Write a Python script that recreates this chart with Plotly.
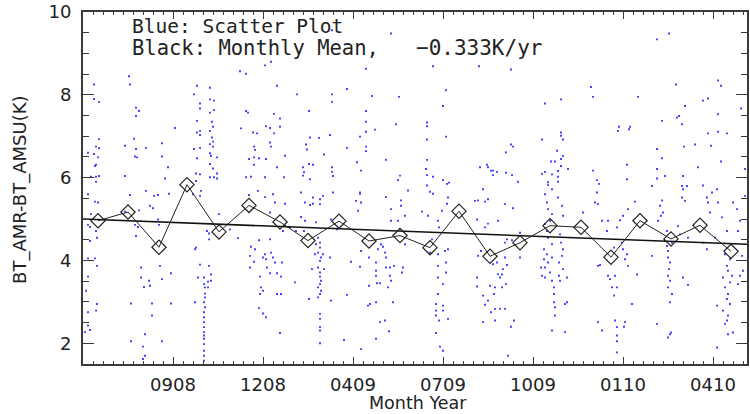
import plotly.graph_objects as go

# ---------------- data ----------------
# x axis: days since start of record; tick labels are Month/Year strings
tick_days = [90, 180, 270, 360, 450, 540, 630]
tick_labels = ["0908", "1208", "0409", "0709", "1009", "0110", "0410"]

# Monthly means (black diamonds)
mean_days = [15, 45, 76, 104, 136, 166, 197, 225, 256, 286, 317,
             347, 376, 407, 437, 467, 498, 528, 557, 588, 617, 648]
mean_vals = [4.96, 5.17, 4.32, 5.83, 4.69, 5.33, 4.93, 4.48, 4.95, 4.47, 4.60,
             4.31, 5.19, 4.10, 4.43, 4.84, 4.80, 4.08, 4.96, 4.52, 4.85, 4.22]

# Linear trend (-0.333 K/yr)
trend_days = [0, 664]
trend_vals = [5.00, 4.39]

# Scatter (blue dots): [day, value]
scatter_upper_left = [
    [11, 8.25], [11, 7.90], [16, 7.83], [46, 8.45], [47, 8.25], [53, 7.69], [56, 7.61], [53, 7.49],
    [16, 6.93], [13, 6.75], [16, 6.71], [5, 6.60], [11, 6.57], [15, 6.49], [13, 6.31], [12, 6.28],
    [16, 6.04], [13, 6.02], [8, 6.02], [13, 5.90], [42, 6.77], [51, 6.94], [53, 6.69], [63, 6.72],
    [52, 6.51], [54, 6.49], [42, 6.04], [79, 6.83], [79, 6.51], [85, 6.25], [82, 5.98], [92, 7.20],
    [111, 8.01], [114, 8.22], [117, 7.79], [117, 7.67], [114, 7.37], [117, 7.13], [114, 7.09],
    [117, 7.03], [111, 6.69], [117, 6.72], [114, 6.47], [113, 6.10], [117, 6.08], [113, 5.92],
    [127, 8.17], [127, 7.89], [131, 7.86], [131, 7.63], [127, 7.57], [129, 7.35], [130, 7.23],
    [127, 7.13], [129, 6.97], [130, 6.87], [127, 6.81], [130, 6.75], [127, 6.59], [128, 6.53],
    [134, 6.49], [127, 6.33], [130, 6.22], [134, 6.10], [127, 6.01], [131, 6.01], [134, 5.98],
    [157, 8.57], [163, 8.51], [182, 8.71], [188, 8.80], [194, 8.22], [163, 7.61], [165, 7.57],
    [158, 7.19], [170, 7.09], [174, 7.07], [191, 7.54], [197, 7.43], [183, 7.24], [187, 7.20],
    [197, 7.23], [191, 7.07], [187, 6.85], [171, 6.75], [172, 6.67], [188, 6.75], [166, 6.45],
    [171, 6.49], [176, 6.47], [183, 6.45], [202, 6.53], [171, 6.31], [194, 6.25], [163, 6.01],
    [168, 6.02], [182, 6.01], [201, 6.01], [214, 8.01], [226, 7.61], [227, 6.97], [236, 6.96],
    [223, 6.80], [224, 6.68], [241, 6.56], [220, 6.25], [226, 6.33], [230, 6.31], [221, 6.13],
    [220, 6.05], [227, 5.96], [249, 8.01], [249, 7.83], [247, 7.03], [249, 6.25], [249, 6.14],
    [250, 6.04], [264, 8.14], [264, 6.72], [274, 6.37], [283, 8.63], [283, 7.61], [283, 7.35],
    [283, 7.11], [277, 6.99], [283, 6.75], [283, 6.64], [278, 6.17], [289, 7.97], [292, 7.16],
    [303, 6.43], [313, 7.29], [316, 7.95], [308, 9.48], [249, 9.56], [317, 6.05], [315, 5.94],
]

scatter_upper_right = [
    [350, 8.69], [396, 8.69], [428, 8.61], [363, 8.11], [360, 7.73], [344, 7.33], [344, 7.24],
    [363, 6.99], [344, 6.92], [344, 6.43], [343, 6.21], [344, 6.06], [350, 6.02], [360, 5.94],
    [364, 5.85], [366, 5.88], [344, 5.81], [574, 9.34], [586, 9.48], [508, 8.19], [510, 7.95],
    [555, 7.95], [462, 7.79], [478, 7.89], [593, 8.25], [602, 7.73], [620, 7.86], [625, 7.91],
    [635, 8.35], [638, 8.22], [658, 7.67], [594, 7.45], [596, 7.49], [579, 7.37], [599, 7.29],
    [635, 7.53], [536, 7.23], [535, 7.13], [547, 7.23], [546, 7.17], [478, 7.09], [478, 7.01],
    [480, 6.92], [459, 6.92], [428, 6.80], [430, 6.75], [423, 6.61], [474, 6.65], [480, 6.52],
    [478, 6.45], [468, 6.39], [472, 6.39], [478, 6.28], [485, 6.21], [397, 6.25], [404, 6.31],
    [405, 6.25], [408, 6.17], [410, 6.17], [414, 6.14], [410, 6.06], [423, 6.12], [429, 6.06],
    [435, 5.90], [459, 6.09], [462, 6.14], [469, 6.08], [475, 6.16], [475, 6.02], [475, 5.90],
    [465, 5.89], [465, 5.82], [510, 6.17], [514, 5.94], [516, 5.85], [544, 6.31], [544, 5.96],
    [574, 6.69], [579, 6.47], [574, 6.21], [582, 6.04], [574, 5.98], [569, 5.80], [601, 6.75],
    [612, 6.80], [628, 6.77], [625, 7.07], [635, 7.11], [644, 7.07], [638, 6.39], [615, 6.25],
    [600, 6.04], [599, 5.80], [604, 5.80], [620, 5.81], [662, 6.21],
]

scatter_lower_left = [
    [5, 5.60], [12, 5.42], [15, 5.40], [8, 5.12], [5, 4.86], [7, 4.81], [13, 4.71], [14, 4.55],
    [7, 4.47], [5, 4.05], [12, 4.05], [14, 3.87], [5, 3.61], [3, 3.27], [5, 2.75], [13, 2.79],
    [14, 2.95], [5, 2.43], [7, 2.32], [2, 2.27], [47, 5.58], [42, 5.18], [56, 5.21], [52, 4.86],
    [55, 4.81], [53, 4.59], [58, 3.83], [58, 3.59], [66, 3.51], [67, 3.39], [61, 3.36], [48, 2.96],
    [69, 2.96], [69, 2.67], [62, 2.22], [48, 2.05], [60, 1.92], [62, 1.70], [60, 1.62], [67, 5.32],
    [70, 5.26], [71, 5.56], [75, 5.58], [75, 4.99], [76, 4.86], [77, 3.87], [79, 3.55], [88, 3.69],
    [88, 2.96], [79, 2.05], [63, 5.68], [86, 5.61], [110, 5.60], [112, 4.27], [113, 4.31],
    [115, 3.59], [117, 3.90], [112, 2.99],
    [121, 3.59], [121, 3.43], [122, 3.35], [122, 3.20], [122, 3.11], [121, 2.99], [122, 2.87],
    [121, 2.75], [121, 2.63], [121, 2.51], [121, 2.39], [121, 2.27], [121, 2.19], [121, 2.11],
    [121, 1.98], [121, 1.82], [121, 1.70], [121, 1.58],
    [125, 3.49], [125, 3.35], [128, 3.66], [128, 3.51], [126, 3.87], [126, 4.51], [117, 5.56],
    [118, 5.68], [124, 4.71], [126, 4.65], [136, 5.12], [147, 4.75], [155, 4.54], [168, 4.33],
    [172, 4.27], [167, 4.11], [167, 3.83], [171, 3.97], [176, 4.49], [180, 4.07], [182, 4.15],
    [183, 4.03], [184, 3.83], [187, 4.51], [188, 4.19], [190, 4.07], [192, 3.95], [199, 3.95],
    [177, 3.61], [178, 3.35], [177, 3.19], [180, 3.27], [187, 3.69], [194, 3.69], [198, 3.61],
    [194, 3.19], [198, 3.19], [176, 2.85], [180, 2.72], [183, 2.63], [197, 2.25], [166, 5.58],
    [175, 5.68], [182, 5.53], [190, 5.60], [192, 5.40], [187, 5.16], [202, 5.37], [218, 5.64],
    [207, 4.80], [200, 4.71], [213, 4.71], [212, 3.47], [218, 5.05], [222, 5.40], [227, 5.34],
    [230, 5.52], [230, 5.37], [237, 5.48], [237, 5.36], [240, 5.56], [222, 4.96], [221, 4.71],
    [233, 4.92],
    [235, 4.55], [237, 4.43], [237, 4.31], [235, 4.19], [238, 4.07], [237, 3.99], [235, 3.83],
    [237, 3.71], [237, 3.61], [238, 3.51], [237, 3.43], [235, 3.35], [238, 3.27], [237, 3.19],
    [235, 3.11], [237, 2.71], [237, 2.59], [237, 2.39], [237, 2.31], [237, 2.00],
    [233, 4.39], [232, 4.15], [229, 3.79], [241, 3.79], [240, 4.15], [226, 3.07], [248, 3.03],
    [247, 4.07], [250, 5.64], [248, 4.99], [254, 4.75], [261, 2.08], [264, 3.17], [268, 3.97],
    [273, 5.44], [277, 5.61], [278, 5.40], [275, 5.20], [278, 4.23], [277, 3.85], [286, 4.07],
    [286, 3.39], [285, 2.91], [287, 2.95], [278, 1.86], [293, 3.75], [293, 3.63], [294, 3.45],
    [297, 3.45], [293, 3.95], [295, 4.27], [298, 4.39], [300, 4.33], [302, 4.19], [303, 4.07],
    [303, 3.83], [307, 3.83], [311, 3.87], [307, 3.63], [308, 3.51], [305, 3.35], [310, 2.99],
    [293, 2.99], [297, 2.51], [302, 2.55], [306, 2.29], [293, 2.11], [303, 5.53], [318, 5.45],
    [318, 5.32], [322, 5.08], [308, 5.24], [308, 4.96], [315, 4.96], [322, 4.39], [320, 3.83],
    [319, 3.71], [325, 5.69], [277, 5.64],
]

scatter_lower_right = [
    [347, 5.66], [350, 5.61], [339, 5.18], [345, 5.08], [355, 4.96], [356, 4.80], [365, 5.52],
    [364, 5.37], [359, 5.20], [349, 4.51], [347, 4.19], [355, 4.15], [362, 4.23], [365, 4.27],
    [355, 3.87], [363, 3.95], [363, 3.71], [355, 3.59], [360, 3.43], [355, 3.19], [353, 2.95],
    [360, 2.91], [353, 2.79], [360, 2.79], [353, 2.67], [356, 2.55], [365, 2.59], [353, 2.25],
    [357, 1.92], [360, 1.82], [392, 5.44], [395, 5.45], [402, 5.42], [405, 5.48], [400, 5.72],
    [394, 4.99], [402, 4.80], [405, 4.89], [415, 4.96], [422, 5.36], [430, 5.26], [424, 4.51],
    [422, 4.43], [429, 4.49], [398, 4.23], [395, 4.11], [394, 3.59], [394, 3.37], [400, 3.15],
    [405, 3.03], [402, 2.93], [411, 3.19], [412, 3.35], [407, 3.39], [415, 3.67], [417, 3.59],
    [419, 3.66], [420, 3.79], [423, 3.43], [419, 3.35], [424, 3.89], [422, 4.07], [414, 3.95],
    [410, 3.91], [412, 2.83], [417, 2.83], [422, 2.83], [408, 2.75], [412, 2.55], [400, 2.51],
    [428, 2.40], [431, 2.55], [425, 1.70], [437, 4.07], [437, 4.67],
    [462, 5.60], [464, 5.40], [465, 5.24], [469, 5.12], [467, 4.96], [462, 4.88], [464, 4.71],
    [465, 4.55], [469, 4.39], [461, 4.27], [464, 4.15], [469, 4.07], [465, 3.95], [462, 3.83],
    [467, 3.71], [462, 3.59], [469, 3.51], [471, 3.35], [471, 3.19], [471, 2.99], [472, 2.87],
    [472, 2.67], [469, 2.31], [475, 5.52], [479, 5.32], [480, 5.08], [477, 4.63], [478, 4.43],
    [480, 4.27], [479, 4.11], [476, 3.95], [480, 3.79], [476, 3.63], [477, 3.51], [484, 3.59],
    [482, 2.95], [484, 2.99], [482, 2.27], [459, 3.63], [458, 3.83], [461, 4.03], [469, 5.72],
    [500, 5.16], [514, 5.64], [512, 5.40], [515, 5.36], [519, 4.96], [525, 4.96], [524, 4.71],
    [517, 3.89], [515, 3.87], [525, 3.63], [527, 3.55], [529, 3.35], [531, 3.15], [532, 2.55],
    [534, 2.39], [534, 2.19], [534, 2.05], [534, 1.78], [515, 2.51], [519, 2.31], [542, 2.51],
    [541, 2.40], [539, 4.43], [540, 4.27], [544, 4.15], [542, 4.03], [545, 3.87], [534, 4.80],
    [537, 4.97], [540, 5.08], [545, 5.24], [552, 5.42], [554, 3.66], [549, 2.95], [532, 3.63],
    [534, 3.35], [531, 4.31], [577, 5.32], [579, 5.45], [580, 5.16], [575, 4.96], [584, 4.71],
    [578, 5.08], [569, 4.11], [574, 2.47],
    [584, 4.35], [585, 4.23], [585, 4.07], [587, 3.95], [586, 3.79], [585, 3.63], [587, 3.51],
    [585, 3.35], [589, 3.19], [587, 2.99], [588, 2.26], [587, 2.22], [585, 2.14],
    [582, 4.47], [589, 4.43], [600, 3.59], [605, 3.41], [599, 5.52], [602, 5.44], [600, 5.72],
    [595, 4.83], [597, 4.63], [605, 4.55], [624, 5.52], [629, 5.64], [634, 5.72], [627, 5.16],
    [625, 5.40], [635, 5.40], [639, 5.04], [632, 4.55], [644, 4.71], [650, 5.40], [657, 4.96],
    [655, 4.71], [654, 5.24], [662, 5.56],
    [642, 4.15], [647, 4.03], [644, 3.87], [645, 3.75], [640, 3.59], [647, 3.47], [642, 3.35],
    [645, 3.19], [644, 3.07], [647, 2.95], [640, 2.79], [645, 2.67], [644, 2.55], [642, 2.47],
    [650, 2.26], [645, 2.22], [649, 3.63], [657, 3.63], [659, 4.11], [660, 3.75], [655, 3.43],
    [634, 2.91], [634, 1.90], [624, 4.27], [620, 4.43],
]

# ---------------- figure ----------------
scatter_all = scatter_upper_left + scatter_upper_right + scatter_lower_left + scatter_lower_right
sx = [p[0] for p in scatter_all]
sy = [p[1] for p in scatter_all]

AX = "#3a3a3a"
TXT = "#222222"

fig = go.Figure()
fig.add_trace(go.Scatter(
    x=sx, y=sy, mode="markers",
    marker=dict(symbol="square", size=1.9, color="#3c3cff", line=dict(width=0)),
    hoverinfo="skip",
))
fig.add_trace(go.Scatter(
    x=trend_days, y=trend_vals, mode="lines",
    line=dict(color="#111111", width=1.6),
))
fig.add_trace(go.Scatter(
    x=mean_days, y=mean_vals, mode="lines+markers",
    line=dict(color="#222222", width=1),
    marker=dict(symbol="diamond-open", size=11, color="#222222", line=dict(width=1.2, color="#222222")),
))

fig.update_layout(
    width=750, height=414,
    margin=dict(l=83, r=1, t=12, b=50),
    paper_bgcolor="white", plot_bgcolor="white",
    showlegend=False,
    font=dict(family="DejaVu Sans", color=TXT),
)

fig.update_xaxes(
    range=[0, 664],
    tickmode="array", tickvals=tick_days, ticktext=tick_labels,
    ticks="inside", ticklen=7, tickwidth=1.3, tickcolor=AX,
    showline=True, linecolor=AX, linewidth=2, mirror="allticks",
    showgrid=False, zeroline=False,
    tickfont=dict(family="DejaVu Sans", size=18, color=TXT),
    ticklabelstandoff=3,
    minor=dict(tickmode="linear", tick0=0, dtick=10, ticks="inside", ticklen=3,
               tickwidth=1, tickcolor=AX, showgrid=False),
)
fig.update_yaxes(
    range=[1.5, 10],
    tickmode="array", tickvals=[2, 4, 6, 8, 10],
    ticks="inside", ticklen=11, tickwidth=1.3, tickcolor=AX,
    showline=True, linecolor=AX, linewidth=2, mirror="allticks",
    showgrid=False, zeroline=False,
    tickfont=dict(family="DejaVu Sans", size=18, color=TXT),
    ticklabelstandoff=6,
    minor=dict(tickmode="linear", tick0=0, dtick=0.5, ticks="inside", ticklen=6,
               tickwidth=1, tickcolor=AX, showgrid=False),
)

MONO = "DejaVu Sans Mono"
fig.add_annotation(text="Blue: Scatter Plot", xref="paper", yref="paper",
                   x=0.0706, y=0.960, xanchor="left", yanchor="middle", showarrow=False,
                   font=dict(family=MONO, size=19.5, color=TXT))
fig.add_annotation(text="Black: Monthly Mean,", xref="paper", yref="paper",
                   x=0.0706, y=0.899, xanchor="left", yanchor="middle", showarrow=False,
                   font=dict(family=MONO, size=20.5, color=TXT))
fig.add_annotation(text="\u22120.333K/yr", xref="paper", yref="paper",
                   x=0.4985, y=0.899, xanchor="left", yanchor="middle", showarrow=False,
                   font=dict(family=MONO, size=21, color=TXT))
fig.add_annotation(text="BT_AMR-BT_AMSU(K)", xref="paper", yref="paper",
                   x=-0.0946, y=0.495, xanchor="center", yanchor="middle", showarrow=False,
                   textangle=-90, font=dict(family="DejaVu Sans", size=18, color=TXT))
fig.add_annotation(text="Month Year", xref="paper", yref="paper",
                   x=0.504, y=-0.11, xanchor="center", yanchor="middle", showarrow=False,
                   font=dict(family="DejaVu Sans", size=17.5, color=TXT))

fig.write_html("out.html", config={"displayModeBar": False})
